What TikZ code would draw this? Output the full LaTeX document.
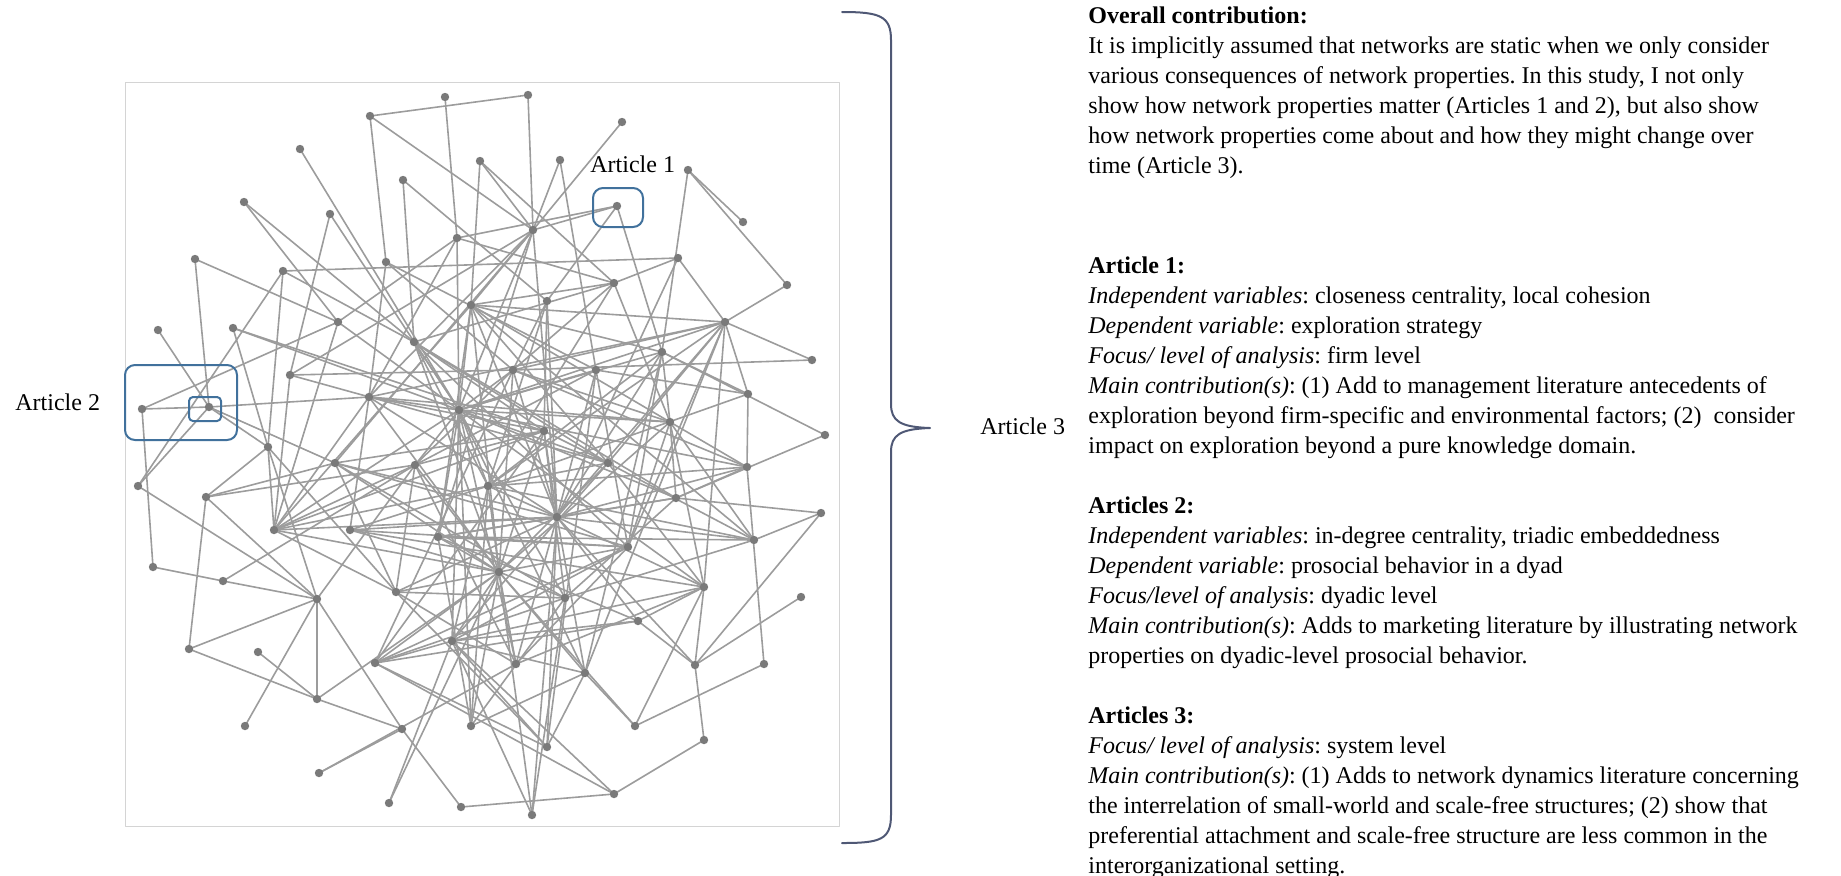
\documentclass[tikz,border=0pt]{standalone}
\usepackage{fontspec}
\setmainfont{Liberation Serif}
\definecolor{edgegray}{HTML}{9C9C9C}
\definecolor{dotgray}{HTML}{7A7A7A}
\definecolor{framegray}{HTML}{D4D4D4}
\definecolor{boxblue}{HTML}{41719C}
\definecolor{bracegray}{HTML}{4F5875}
\frenchspacing
\begin{document}
\begin{tikzpicture}[x=0.5pt, y=-0.5pt, line join=round, line cap=round,
  edge/.style={draw=edgegray, line width=0.8pt},
  pick/.style={draw=boxblue, line width=1pt, rounded corners=5pt},
  txt/.style={anchor=base west, inner sep=0pt, align=left, font=\fontsize{12}{15}\selectfont}]
\useasboundingbox (0,0) rectangle (1841,875);
% the network
\draw[framegray, line width=0.5pt] (125,82) rectangle (839,826);
\foreach \n/\x/\y in {1/445/97, 2/528/95, 3/370/116, 4/622/122, 5/300/149, 6/480/161,
  7/560/160, 8/688/170, 9/403/180, 10/244/202, 11/330/214, 12/617/206, 13/743/222,
  14/533/230, 15/457/238, 16/195/259, 17/283/271, 18/386/262, 19/678/258, 20/787/285,
  21/614/283, 22/471/305, 23/547/301, 24/725/322, 25/158/330, 26/233/328, 27/338/322,
  28/414/342, 29/662/352, 30/812/360, 31/513/370, 32/596/370, 33/290/375, 34/142/409,
  35/209/407, 36/369/397, 37/459/410, 38/748/394, 39/670/422, 40/544/431, 41/825/435,
  42/268/447, 43/415/465, 44/335/463, 45/608/463, 46/747/467, 47/138/486, 48/206/497,
  49/488/486, 50/676/498, 51/557/517, 52/821/513, 53/274/530, 54/350/530, 55/438/537,
  56/628/547, 57/754/540, 58/153/567, 59/223/581, 60/499/572, 61/396/592, 62/704/587,
  63/317/599, 64/565/598, 65/638/621, 66/801/597, 67/452/641, 68/189/649, 69/258/652,
  70/375/663, 71/516/664, 72/585/673, 73/695/665, 74/764/664, 75/317/699, 76/245/726,
  77/402/729, 78/471/726, 79/547/747, 80/635/726, 81/704/740, 82/319/773, 83/389/803,
  84/461/807, 85/532/815, 86/614/794}
  \coordinate (v\n) at (\x,\y);
\foreach \a/\b in {3/2, 3/14, 3/18, 1/15, 2/14, 4/14, 6/14, 6/22, 6/21, 7/14, 7/32, 8/13,
  8/20, 8/29, 12/14, 12/15, 12/29, 12/23, 5/37, 9/28, 9/23, 10/28, 10/27, 11/33, 11/37,
  16/27, 16/35, 17/19, 17/47, 17/42, 17/28, 25/35, 26/42, 26/37, 26/40, 34/35, 34/58,
  34/27, 47/35, 47/63, 42/48, 42/53, 42/63, 42/61, 42/35, 48/68, 48/63, 48/44, 48/43,
  58/59, 59/63, 59/43, 63/68, 63/75, 63/77, 63/76, 63/43, 68/75, 69/75, 75/77, 75/60,
  77/82, 82/71, 83/60, 83/67, 84/86, 84/77, 85/67, 86/81, 81/73, 73/62, 73/66, 73/52,
  73/51, 80/74, 80/72, 80/62, 80/60, 79/72, 79/67, 79/51, 20/24, 19/21, 19/24, 21/22,
  23/40, 30/24, 30/31, 38/24, 38/46, 38/32, 38/29, 38/49, 41/50, 41/29, 52/50, 52/57,
  74/46, 35/44, 35/36, 18/36, 18/31, 33/31, 33/45, 33/53, 36/53, 36/54, 70/64, 70/40,
  70/60}
  \draw[edge] (v\a) -- (v\b);
\foreach \a/\b in {37/15, 37/22, 37/14, 37/27, 37/28, 37/31, 37/32, 37/39, 37/45, 37/46,
  37/50, 37/55, 37/64, 37/67, 37/49, 37/24, 37/29, 37/62, 37/71, 37/78, 37/43, 37/36,
  37/53, 37/72, 51/14, 51/23, 51/29, 51/31, 51/32, 51/40, 51/49, 51/53, 51/54, 51/55,
  51/62, 51/65, 51/71, 51/72, 51/24, 51/19, 51/22, 51/36, 51/44, 51/57, 51/46, 51/85,
  51/61, 60/31, 60/22, 60/28, 60/36, 60/40, 60/43, 60/44, 60/49, 60/53, 60/54, 60/55,
  60/61, 60/64, 60/67, 60/71, 60/72, 60/85, 60/78, 60/45, 60/39, 60/56}
  \draw[edge] (v\a) -- (v\b);
\foreach \a/\b in {28/40, 28/45, 28/49, 28/21, 28/56, 28/50, 40/36, 40/44, 40/45, 40/64,
  40/53, 40/43, 14/22, 14/44, 14/33, 14/36, 14/55, 24/31, 24/36, 24/45, 24/56, 24/72,
  24/49, 24/22, 24/62, 45/57, 45/62, 45/49, 45/67, 45/22, 31/21, 31/43, 31/70, 31/39,
  31/46, 32/18, 32/56, 32/79, 32/43, 29/39, 29/56, 29/72, 29/49, 22/53, 22/55, 22/39,
  22/29, 22/57, 23/31, 23/49, 21/39, 21/15, 21/49, 15/27, 15/36, 27/53, 39/46, 39/50,
  39/57, 39/62, 39/56, 39/36, 43/53, 43/71, 43/61, 44/61, 44/64, 44/56, 46/50, 46/49,
  49/53, 49/54, 49/78, 49/67, 49/57, 50/51, 50/64, 50/55, 53/61, 54/56, 54/62, 55/56,
  55/57, 55/65, 56/67, 56/71, 56/70, 57/64, 61/64, 61/71, 61/79, 62/65, 62/67, 62/71,
  64/85, 65/67, 65/70, 65/73, 67/70, 67/72, 67/86, 70/79, 70/86, 72/78, 78/64, 78/55}
  \draw[edge] (v\a) -- (v\b);
\foreach \n in {1,...,86}
  \fill[dotgray] (v\n) circle (2.1pt);
% highlighted articles
\draw[pick] (593,188) rectangle (643,227);
\draw[pick] (125,365) rectangle (237,440);
\draw[pick, rounded corners=2pt] (189,397) rectangle (221,421);
\node[txt] (lab1) at (590,172) {Article 1};
\node[txt] (lab2) at (15,410) {Article 2};
% brace
\draw[bracegray, line width=1pt] (842,12) .. controls (880,12) and (891,16) .. (891,40)
  -- (891,404) .. controls (891,421) and (900,427) .. (930,428)
  .. controls (900,429) and (891,435) .. (891,452) -- (891,815)
  .. controls (891,840) and (880,843) .. (842,843);
\node[txt] (lab3) at (980,434) {Article 3};
% text column (base = last line)
\node[txt] (ovr) at (1088,173) {\textbf{Overall contribution:}\\
It is implicitly assumed that networks are static when we only consider\\
various consequences of network properties. In this study, I not only\\
show how network properties matter (Articles 1 and 2), but also show\\
how network properties come about and how they might change over\\
time (Article 3).};
\node[txt] (art1) at (1088,453) {\textbf{Article 1:}\\
\textit{Independent variables}: closeness centrality, local cohesion\\
\textit{Dependent variable}: exploration strategy\\
\textit{Focus/ level of analysis}: firm level\\
\textit{Main contribution(s)}: (1) Add to management literature antecedents of\\
exploration beyond firm-specific and environmental factors; (2)~ consider\\
impact on exploration beyond a pure knowledge domain.};
\node[txt] (art2) at (1088,663) {\textbf{Articles 2:}\\
\textit{Independent variables}: in-degree centrality, triadic embeddedness\\
\textit{Dependent variable}: prosocial behavior in a dyad\\
\textit{Focus/level of analysis}: dyadic level\\
\textit{Main contribution(s)}: Adds to marketing literature by illustrating network\\
properties on dyadic-level prosocial behavior.};
\node[txt] (art3) at (1088,873) {\textbf{Articles 3:}\\
\textit{Focus/ level of analysis}: system level\\
\textit{Main contribution(s)}: (1) Adds to network dynamics literature concerning\\
the interrelation of small-world and scale-free structures; (2) show that\\
preferential attachment and scale-free structure are less common in the\\
interorganizational setting.};
\end{tikzpicture}
\end{document}
